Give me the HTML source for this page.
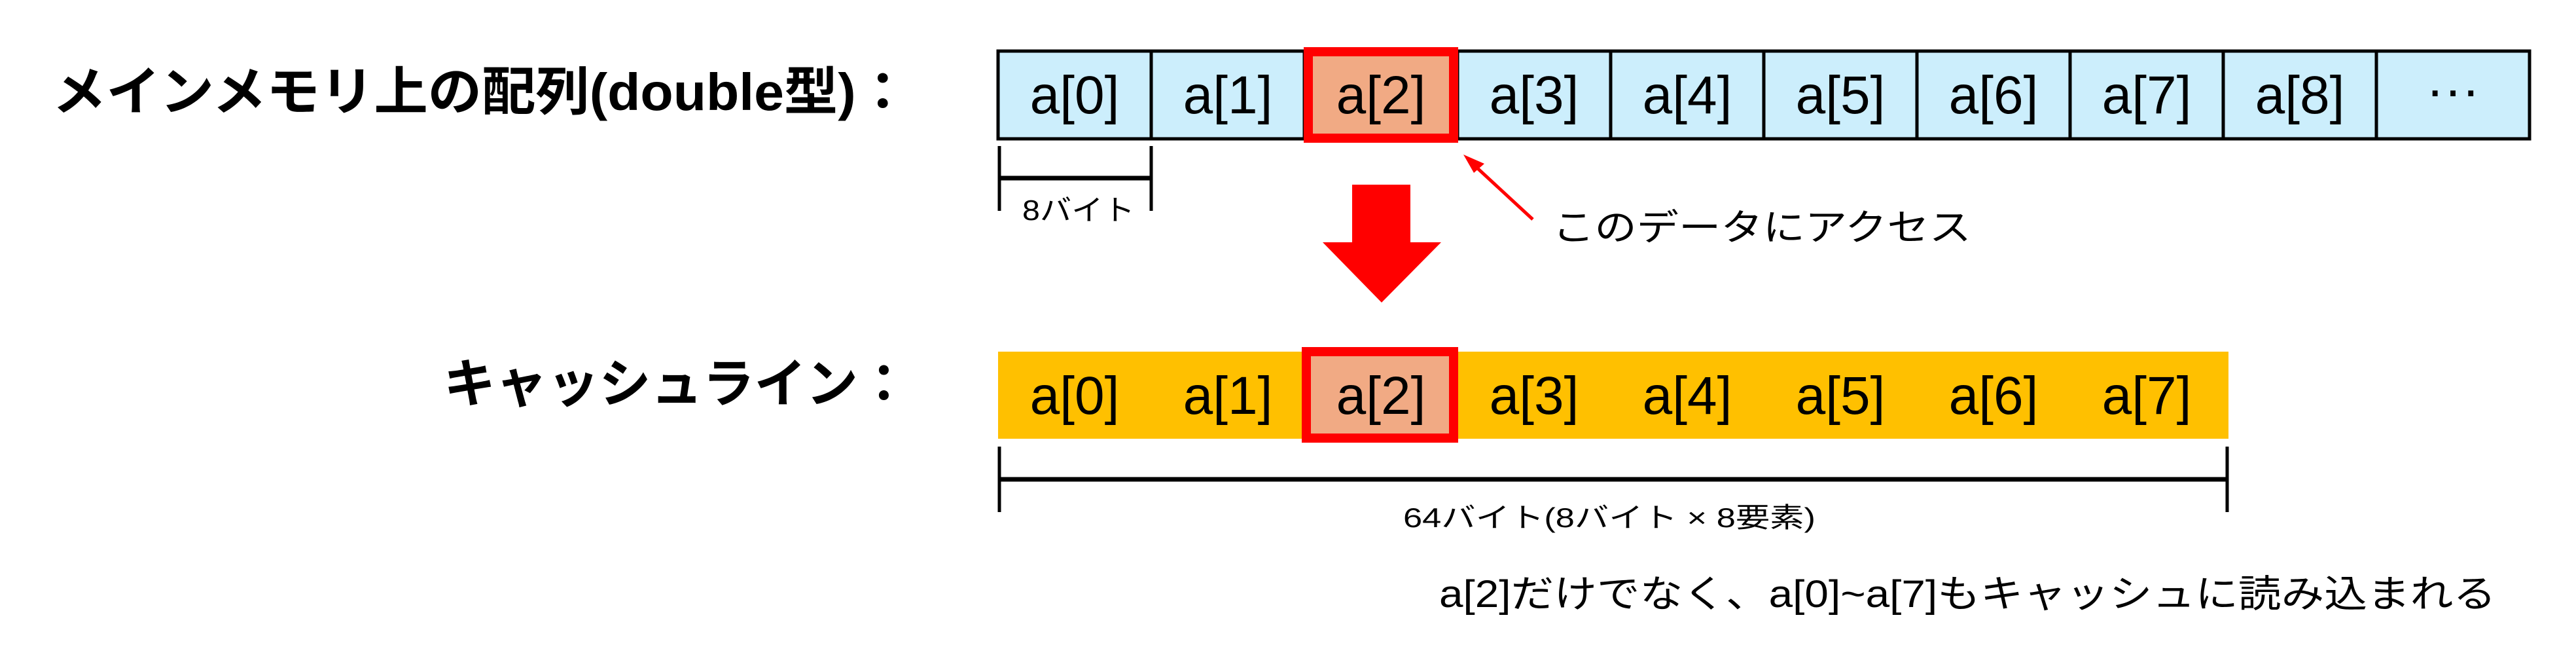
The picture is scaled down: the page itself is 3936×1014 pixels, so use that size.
<!DOCTYPE html>
<html><head><meta charset="utf-8"><style>
html,body{margin:0;padding:0;background:#fff;}
svg{display:block;}
text{font-family:"Liberation Sans","Noto Sans CJK JP",sans-serif;}
</style></head><body>
<svg width="3936" height="1014" viewBox="0 0 3936 1014" xmlns="http://www.w3.org/2000/svg">
<text x="80" y="168" font-size="80" font-weight="bold" textLength="1310" lengthAdjust="spacingAndGlyphs">メインメモリ上の配列(double型)：</text>
<text x="678" y="614" font-size="80" font-weight="bold" textLength="712" lengthAdjust="spacingAndGlyphs">キャッシュライン：</text>

<rect x="1525" y="78" width="2340" height="134" fill="#CCEEFC" stroke="#000" stroke-width="5"/>
<g stroke="#000" stroke-width="5">
<line x1="1759" y1="78" x2="1759" y2="212"/>
<line x1="1993" y1="78" x2="1993" y2="212"/>
<line x1="2227" y1="78" x2="2227" y2="212"/>
<line x1="2461" y1="78" x2="2461" y2="212"/>
<line x1="2695" y1="78" x2="2695" y2="212"/>
<line x1="2929" y1="78" x2="2929" y2="212"/>
<line x1="3163" y1="78" x2="3163" y2="212"/>
<line x1="3397" y1="78" x2="3397" y2="212"/>
<line x1="3631" y1="78" x2="3631" y2="212"/>
</g>
<rect x="1999" y="79" width="222" height="132" fill="#F1AA84" stroke="#FF0000" stroke-width="14"/>
<g font-size="82" text-anchor="middle" fill="#000">
<text x="1642" y="173">a[0]</text>
<text x="1876" y="173">a[1]</text>
<text x="2110" y="173">a[2]</text>
<text x="2344" y="173">a[3]</text>
<text x="2578" y="173">a[4]</text>
<text x="2812" y="173">a[5]</text>
<text x="3046" y="173">a[6]</text>
<text x="3280" y="173">a[7]</text>
<text x="3514" y="173">a[8]</text>
<text x="3748" y="165">···</text>
</g>

<g stroke="#000">
<line x1="1527" y1="223" x2="1527" y2="322" stroke-width="5"/>
<line x1="1759" y1="223" x2="1759" y2="322" stroke-width="5"/>
<line x1="1527" y1="272" x2="1759" y2="272" stroke-width="7"/>
</g>
<text x="1562" y="336" font-size="44" textLength="172" lengthAdjust="spacingAndGlyphs">8バイト</text>

<polygon points="2066,282 2155,282 2155,370 2202,370 2111,462 2021,370 2066,370" fill="#FF0000"/>

<line x1="2342" y1="335" x2="2250" y2="250" stroke="#FF0000" stroke-width="5"/>
<polygon points="2236,236 2268,250 2252,264" fill="#FF0000"/>
<text x="2372" y="367" font-size="56" textLength="640" lengthAdjust="spacingAndGlyphs">このデータにアクセス</text>

<rect x="1525" y="537" width="1880" height="133" fill="#FFC000"/>
<rect x="1996" y="537" width="225" height="132" fill="#F1AA84" stroke="#FF0000" stroke-width="14"/>
<g font-size="82" text-anchor="middle" fill="#000">
<text x="1642" y="632">a[0]</text>
<text x="1876" y="632">a[1]</text>
<text x="2110" y="632">a[2]</text>
<text x="2344" y="632">a[3]</text>
<text x="2578" y="632">a[4]</text>
<text x="2812" y="632">a[5]</text>
<text x="3046" y="632">a[6]</text>
<text x="3280" y="632">a[7]</text>
</g>

<g stroke="#000">
<line x1="1527" y1="682" x2="1527" y2="782" stroke-width="5"/>
<line x1="3403" y1="682" x2="3403" y2="782" stroke-width="5"/>
<line x1="1527" y1="732" x2="3403" y2="732" stroke-width="7"/>
</g>
<text x="2144" y="805" font-size="42" textLength="630" lengthAdjust="spacingAndGlyphs">64バイト(8バイト × 8要素)</text>

<text x="2199" y="927" font-size="58" textLength="1615" lengthAdjust="spacingAndGlyphs">a[2]だけでなく、a[0]~a[7]もキャッシュに読み込まれる</text>
</svg>
</body></html>
